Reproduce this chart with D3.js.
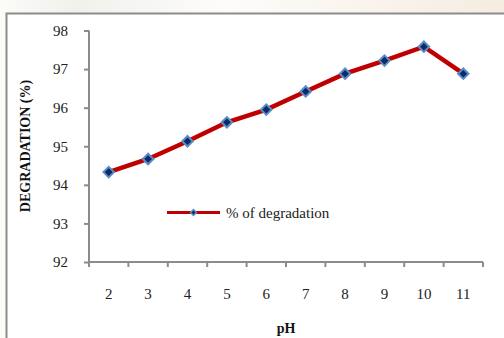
<!DOCTYPE html>
<html>
<head>
<meta charset="utf-8">
<script src="https://cdn.jsdelivr.net/npm/d3@7"></script>
<style>
  html, body { margin: 0; padding: 0; }
  svg { display: block; }
  svg text { font-family: "Liberation Serif", "Times New Roman", serif; }
</style>
</head>
<body>
<svg width="504" height="338"></svg>
<script>
var phValues = [2, 3, 4, 5, 6, 7, 8, 9, 10, 11];
var degradation = [94.33, 94.67, 95.13, 95.62, 95.95, 96.42, 96.88, 97.22, 97.58, 96.88];
var yTicks = [92, 93, 94, 95, 96, 97, 98];
var seriesName = '% of degradation';

var svg = d3.select('svg');
var fontFamily = 'Liberation Serif';

// faded page background behind the chart frame
var defs = svg.append('defs');
var grad = defs.append('linearGradient').attr('id', 'bg').attr('x1', 0).attr('x2', 1);
grad.append('stop').attr('offset', '0%').attr('stop-color', '#fbfbf8');
grad.append('stop').attr('offset', '15%').attr('stop-color', '#f1f1ec');
grad.append('stop').attr('offset', '45%').attr('stop-color', '#fdfcfa');
grad.append('stop').attr('offset', '100%').attr('stop-color', '#f6ece1');
svg.append('rect').attr('width', 504).attr('height', 338).attr('fill', 'url(#bg)');

// chart frame (runs off right and bottom)
svg.append('rect')
  .attr('x', 6.5).attr('y', 13.5)
  .attr('width', 520).attr('height', 340)
  .attr('fill', 'white')
  .attr('stroke', '#8c8c8c')
  .attr('stroke-width', 2);

var plotLeft = 89, plotRight = 483, plotTop = 30.5, plotBottom = 262;

var x = d3.scaleBand().domain(phValues).range([plotLeft, plotRight]);
var y = d3.scaleLinear().domain([92, 98]).range([plotBottom, plotTop]);

// y axis
var yAxis = svg.append('g')
  .attr('transform', 'translate(' + plotLeft + ',0)')
  .call(d3.axisLeft(y).tickValues(yTicks).tickSize(5).tickPadding(16).tickFormat(d3.format('d')));

// x axis, ticks on the category boundaries
var xAxis = svg.append('g')
  .attr('transform', 'translate(0,' + plotBottom + ')')
  .call(d3.axisBottom(x).tickSize(0).tickPadding(26));

xAxis.selectAll('.bound')
  .data(phValues.concat([null]))
  .enter().append('line')
  .attr('class', 'bound')
  .attr('x1', (d, i) => i < phValues.length ? x(d) : plotRight)
  .attr('x2', (d, i) => i < phValues.length ? x(d) : plotRight)
  .attr('y1', 0).attr('y2', 5)
  .attr('stroke', '#8c8c8c').attr('stroke-width', 2);

[yAxis, xAxis].forEach(g => {
  g.attr('font-family', fontFamily).attr('font-size', 15);
  g.selectAll('.domain').attr('stroke', '#8c8c8c').attr('stroke-width', 2);
  g.selectAll('.tick line').attr('stroke', '#8c8c8c').attr('stroke-width', 2);
  g.selectAll('.tick text')
    .attr('fill', '#222')
    .attr('font-family', fontFamily)
    .attr('font-size', 15);
});
yAxis.select('.domain').attr('d', 'M0,' + plotTop + 'V' + plotBottom);
xAxis.select('.domain').attr('d', 'M' + plotLeft + ',0H' + plotRight);

// series line
var lineGenerator = d3.line()
  .x((d, i) => x(phValues[i]) + x.bandwidth() / 2)
  .y(d => y(d));

svg.append('path')
  .attr('d', lineGenerator(degradation))
  .attr('stroke', '#c00000')
  .attr('stroke-width', 4.5)
  .attr('fill', 'none');

var diamond = d3.symbol().type(d3.symbolDiamond2);

svg.selectAll('.marker')
  .data(degradation)
  .enter().append('path')
  .attr('class', 'marker')
  .attr('d', diamond.size(70)())
  .attr('transform', (d, i) => 'translate(' + (x(phValues[i]) + x.bandwidth() / 2) + ',' + y(d) + ')')
  .attr('fill', '#0b2a66')
  .attr('stroke', '#5a8cc8')
  .attr('stroke-width', 2);

// legend
var legend = svg.append('g').attr('transform', 'translate(167,212.5)');
legend.append('line')
  .attr('x1', 0).attr('x2', 53)
  .attr('stroke', '#c00000').attr('stroke-width', 3);
legend.append('path')
  .attr('d', diamond.size(22)())
  .attr('transform', 'translate(26.5,0)')
  .attr('fill', '#0b2a66')
  .attr('stroke', '#5a8cc8')
  .attr('stroke-width', 1.5);
legend.append('text')
  .attr('x', 59).attr('y', 5)
  .attr('fill', '#222')
  .attr('font-family', fontFamily)
  .attr('font-size', 15)
  .text(seriesName);

// axis titles
svg.append('text')
  .attr('transform', 'translate(30,146) rotate(-90)')
  .attr('text-anchor', 'middle')
  .attr('fill', '#111')
  .attr('font-family', fontFamily)
  .attr('font-size', 14)
  .attr('font-weight', 'bold')
  .text('DEGRADATION (%)');

svg.append('text')
  .attr('x', 286).attr('y', 333)
  .attr('text-anchor', 'middle')
  .attr('fill', '#111')
  .attr('font-family', fontFamily)
  .attr('font-size', 14)
  .attr('font-weight', 'bold')
  .text('pH');
</script>
</body>
</html>
